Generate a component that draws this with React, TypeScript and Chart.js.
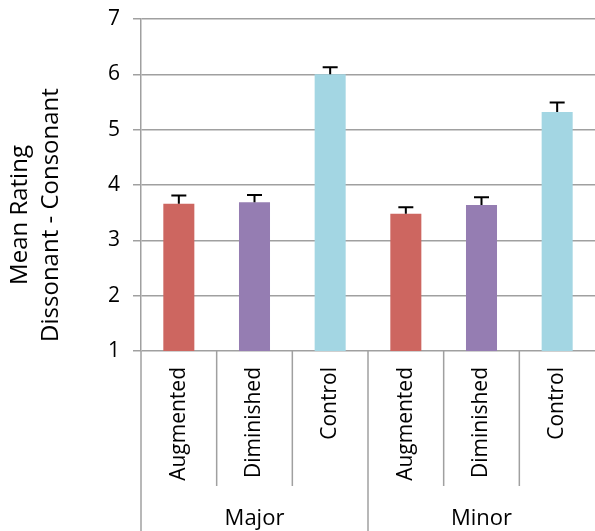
import React, { useEffect, useRef } from "react";
import { Chart, registerables } from "chart.js";

Chart.register(...registerables);

const categories = ["Augmented", "Diminished", "Control", "Augmented", "Diminished", "Control"];
const groups = ["Major", "Minor"];
const groupSize = 3;
const means = [3.66, 3.69, 6.0, 3.48, 3.64, 5.32];
const errors = [0.15, 0.13, 0.13, 0.12, 0.14, 0.17];
const barColors = ["#CD6660", "#957DB2", "#A3D6E3", "#CD6660", "#957DB2", "#A3D6E3"];
const yTitleLines = ["Mean Rating", "Dissonant - Consonant"];
const yMin = 1;
const yMax = 7;

const FONT = "'Open Sans', 'Noto Sans', sans-serif";
const GRID = "#a0a0a0";

const errorBarPlugin = {
  id: "errorBars",
  afterDatasetsDraw(chart: any) {
    const meta = chart.getDatasetMeta(0);
    const y = chart.scales.y;
    const ctx = chart.ctx;
    ctx.save();
    ctx.strokeStyle = "#000";
    ctx.lineWidth = 2;
    meta.data.forEach((bar: any, i: number) => {
      const top = y.getPixelForValue(means[i] + errors[i]);
      ctx.beginPath();
      ctx.moveTo(bar.x, bar.y);
      ctx.lineTo(bar.x, top);
      ctx.moveTo(bar.x - 7.5, top);
      ctx.lineTo(bar.x + 7.5, top);
      ctx.stroke();
    });
    ctx.restore();
  },
};

const axisDecorPlugin = {
  id: "axisDecor",
  afterDraw(chart: any) {
    const x = chart.scales.x;
    const ctx = chart.ctx;
    const n = categories.length;
    const w = (x.right - x.left) / n;
    const axisY = chart.chartArea.bottom;
    ctx.save();
    ctx.strokeStyle = GRID;
    ctx.lineWidth = 1.5;
    // separators at category boundaries (the right-most boundary lies just outside the frame)
    for (let i = 0; i < n; i++) {
      const bx = x.getPixelForValue(i) - w / 2;
      const isGroup = i % groupSize === 0;
      ctx.beginPath();
      ctx.moveTo(bx, axisY);
      ctx.lineTo(bx, isGroup ? chart.height : axisY + 135);
      ctx.stroke();
    }
    // group labels
    ctx.fillStyle = "#000";
    ctx.font = `22px ${FONT}`;
    ctx.textAlign = "center";
    ctx.textBaseline = "middle";
    groups.forEach((g, gi) => {
      const first = x.getPixelForValue(gi * groupSize);
      const last = x.getPixelForValue(gi * groupSize + groupSize - 1);
      ctx.fillText(g, (first + last) / 2, 519);
    });
    // y title
    ctx.font = `24px ${FONT}`;
    ctx.textBaseline = "alphabetic";
    const cy = 215;
    const baselines = [27, 58];
    yTitleLines.forEach((t, li) => {
      ctx.save();
      ctx.translate(baselines[li], cy);
      ctx.rotate(-Math.PI / 2);
      ctx.fillText(t, 0, 0);
      ctx.restore();
    });
    ctx.restore();
  },
};

export default function App() {
  const ref = useRef<HTMLCanvasElement>(null);
  useEffect(() => {
    if (!ref.current) return;
    const chart = new Chart(ref.current, {
      type: "bar",
      data: {
        labels: categories,
        datasets: [
          {
            data: means,
            backgroundColor: barColors,
            borderWidth: 0,
            categoryPercentage: 1,
            barPercentage: 0.41,
          },
        ],
      },
      options: {
        animation: false,
        responsive: false,
        layout: { padding: { top: 19, right: 0, left: 0, bottom: 0 } },
        plugins: { legend: { display: false }, tooltip: { enabled: false }, title: { display: false } },
        font: { family: FONT },
        scales: {
          x: {
            grid: { display: false, drawTicks: false },
            border: { display: false },
            ticks: {
              minRotation: 90,
              maxRotation: 90,
              padding: 16,
              color: "#000",
              font: { family: FONT, size: 21 },
              autoSkip: false,
            },
            afterFit(scale: any) {
              scale.height = 180;
              scale.paddingLeft = 0;
              scale.paddingRight = 0;
            },
          },
          y: {
            min: yMin,
            max: yMax,
            grid: { color: GRID, lineWidth: 1.5, tickLength: 8, drawTicks: true },
            border: { display: true, color: GRID, width: 1.5 },
            ticks: {
              stepSize: 1,
              padding: 13,
              color: "#000",
              font: { family: FONT, size: 21 },
            },
            afterFit(scale: any) {
              scale.width = 141;
              scale.paddingTop = 0;
              scale.paddingBottom = 0;
            },
          },
        },
      } as any,
      plugins: [errorBarPlugin, axisDecorPlugin],
    });
    return () => chart.destroy();
  }, []);
  return (
    <div style={{ position: "fixed", left: 0, top: 0, width: 595, height: 531, background: "#fff" }}>
      <canvas ref={ref} width={595} height={531} />
    </div>
  );
}
